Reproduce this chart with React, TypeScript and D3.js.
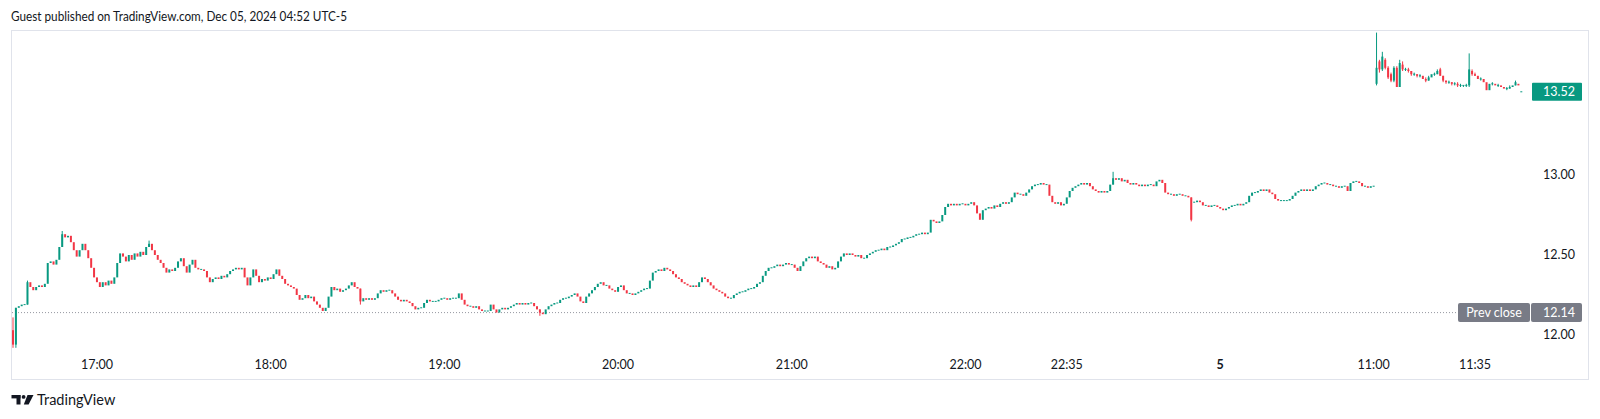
import React from 'react';
import * as d3 from 'd3';

const headerText = 'Guest published on TradingView.com, Dec 05, 2024 04:52 UTC-5';

// Evening session 1-minute closes (index 0 .. 470); open = previous close
const eveningCloses = [
  11.94, 12.17, 12.18, 12.19, 12.19, 12.33, 12.30, 12.28, 12.30, 12.31,
  12.30, 12.32, 12.45, 12.46, 12.44, 12.47, 12.55, 12.63, 12.61, 12.62,
  12.58, 12.53, 12.49, 12.53, 12.57, 12.53, 12.48, 12.42, 12.36, 12.33,
  12.30, 12.33, 12.31, 12.34, 12.32, 12.36, 12.45, 12.51, 12.49, 12.46,
  12.50, 12.47, 12.51, 12.49, 12.52, 12.50, 12.55, 12.57, 12.53, 12.50,
  12.47, 12.45, 12.42, 12.39, 12.41, 12.40, 12.42, 12.46, 12.48, 12.43,
  12.39, 12.44, 12.47, 12.42, 12.41, 12.41, 12.40, 12.36, 12.33, 12.35,
  12.36, 12.35, 12.37, 12.36, 12.38, 12.40, 12.41, 12.42, 12.41, 12.42,
  12.36, 12.31, 12.36, 12.41, 12.37, 12.33, 12.35, 12.34, 12.36, 12.35,
  12.38, 12.41, 12.37, 12.35, 12.32, 12.31, 12.30, 12.29, 12.25, 12.22,
  12.23, 12.25, 12.23, 12.24, 12.21, 12.19, 12.17, 12.15, 12.17, 12.24,
  12.30, 12.28, 12.29, 12.27, 12.28, 12.29, 12.31, 12.33, 12.30, 12.29,
  12.21, 12.23, 12.22, 12.23, 12.22, 12.23, 12.26, 12.28, 12.27, 12.28,
  12.28, 12.26, 12.24, 12.22, 12.21, 12.22, 12.21, 12.20, 12.18, 12.16,
  12.17, 12.17, 12.20, 12.22, 12.21, 12.21, 12.21, 12.22, 12.23, 12.23,
  12.22, 12.23, 12.23, 12.23, 12.26, 12.22, 12.19, 12.18, 12.18, 12.17,
  12.18, 12.16, 12.15, 12.15, 12.15, 12.19, 12.16, 12.14, 12.16, 12.17,
  12.16, 12.17, 12.18, 12.19, 12.20, 12.19, 12.20, 12.19, 12.20, 12.20,
  12.18, 12.16, 12.14, 12.13, 12.16, 12.18, 12.19, 12.20, 12.20, 12.22,
  12.23, 12.23, 12.24, 12.25, 12.26, 12.24, 12.21, 12.20, 12.24, 12.26,
  12.28, 12.30, 12.32, 12.33, 12.31, 12.31, 12.29, 12.28, 12.27, 12.30,
  12.31, 12.28, 12.26, 12.26, 12.25, 12.26, 12.27, 12.28, 12.29, 12.29,
  12.34, 12.39, 12.40, 12.41, 12.40, 12.42, 12.41, 12.40, 12.38, 12.36,
  12.35, 12.33, 12.32, 12.31, 12.30, 12.31, 12.30, 12.33, 12.36, 12.35,
  12.33, 12.31, 12.29, 12.28, 12.27, 12.26, 12.24, 12.23, 12.23, 12.25,
  12.26, 12.27, 12.27, 12.28, 12.29, 12.29, 12.30, 12.32, 12.33, 12.37,
  12.40, 12.42, 12.42, 12.43, 12.44, 12.43, 12.44, 12.45, 12.44, 12.44,
  12.42, 12.40, 12.43, 12.46, 12.48, 12.49, 12.48, 12.49, 12.46, 12.45,
  12.44, 12.42, 12.43, 12.41, 12.42, 12.46, 12.49, 12.51, 12.50, 12.51,
  12.50, 12.49, 12.50, 12.48, 12.48, 12.50, 12.51, 12.52, 12.53, 12.53,
  12.54, 12.53, 12.55, 12.55, 12.56, 12.57, 12.58, 12.60, 12.60, 12.61,
  12.61, 12.62, 12.63, 12.63, 12.64, 12.63, 12.64, 12.72, 12.71, 12.70,
  12.71, 12.75, 12.80, 12.82, 12.81, 12.82, 12.81, 12.82, 12.82, 12.81,
  12.82, 12.83, 12.81, 12.76, 12.72, 12.78, 12.79, 12.80, 12.79, 12.81,
  12.80, 12.82, 12.83, 12.82, 12.83, 12.86, 12.89, 12.88, 12.88, 12.87,
  12.89, 12.91, 12.93, 12.94, 12.94, 12.95, 12.94, 12.94, 12.87, 12.83,
  12.82, 12.83, 12.81, 12.82, 12.86, 12.90, 12.92, 12.93, 12.94, 12.95,
  12.94, 12.95, 12.93, 12.91, 12.90, 12.89, 12.90, 12.89, 12.90, 12.94,
  12.98, 12.97, 12.98, 12.96, 12.97, 12.95, 12.94, 12.95, 12.94, 12.93,
  12.94, 12.93, 12.94, 12.94, 12.93, 12.96, 12.97, 12.95, 12.89, 12.88,
  12.88, 12.87, 12.88, 12.88, 12.87, 12.87, 12.86, 12.72, 12.83, 12.84,
  12.83, 12.81, 12.81, 12.80, 12.81, 12.81, 12.80, 12.79, 12.78, 12.79,
  12.80, 12.81, 12.81, 12.82, 12.81, 12.82, 12.83, 12.87, 12.89, 12.89,
  12.90, 12.91, 12.90, 12.91, 12.89, 12.88, 12.85, 12.84, 12.84, 12.84,
  12.84, 12.85, 12.87, 12.89, 12.90, 12.91, 12.90, 12.91, 12.90, 12.91,
  12.93, 12.94, 12.95, 12.95, 12.94, 12.94, 12.93, 12.93, 12.92, 12.93,
  12.93, 12.90, 12.95, 12.96, 12.96, 12.95, 12.93, 12.93, 12.92, 12.93,
  12.93,
];
const openOverrides: [number, number][] = [[0, 12.03], [408, 12.83]];
const highOverrides: [number, number][] = [[0, 12.11], [17, 12.65], [47, 12.59], [380, 13.02], [5, 12.34]];
const lowOverrides: [number, number][] = [[0, 11.92], [1, 11.92], [182, 12.12], [407, 12.71], [120, 12.19]];

// Day session candles (index 471 .. 521)
const dayOpens = [
  13.57, 13.71, 13.66, 13.72, 13.67, 13.63, 13.59, 13.67, 13.55, 13.69,
  13.66, 13.66, 13.65, 13.63, 13.63, 13.62, 13.62, 13.60, 13.59, 13.61,
  13.63, 13.63, 13.66, 13.62, 13.59, 13.58, 13.58, 13.57, 13.57, 13.56,
  13.56, 13.56, 13.56, 13.65, 13.63, 13.62, 13.60, 13.60, 13.58, 13.53,
  13.57, 13.57, 13.56, 13.56, 13.55, 13.54, 13.54, 13.55, 13.56, 13.57,
  13.52,
];
const dayHighs = [
  13.89, 13.72, 13.77, 13.73, 13.68, 13.64, 13.68, 13.68, 13.72, 13.71,
  13.67, 13.67, 13.65, 13.64, 13.63, 13.63, 13.62, 13.61, 13.62, 13.63,
  13.64, 13.66, 13.67, 13.62, 13.59, 13.59, 13.58, 13.58, 13.58, 13.57,
  13.56, 13.57, 13.76, 13.66, 13.64, 13.62, 13.61, 13.60, 13.58, 13.57,
  13.58, 13.57, 13.57, 13.56, 13.55, 13.55, 13.56, 13.56, 13.59, 13.57,
  13.52,
];
const dayLows = [
  13.56, 13.64, 13.65, 13.66, 13.60, 13.58, 13.58, 13.55, 13.55, 13.65,
  13.65, 13.64, 13.62, 13.62, 13.61, 13.61, 13.60, 13.58, 13.59, 13.61,
  13.62, 13.63, 13.62, 13.58, 13.57, 13.57, 13.56, 13.56, 13.55, 13.55,
  13.55, 13.55, 13.55, 13.62, 13.62, 13.60, 13.59, 13.58, 13.53, 13.53,
  13.56, 13.56, 13.55, 13.55, 13.54, 13.53, 13.54, 13.55, 13.56, 13.56,
  13.52,
];
const dayCloses = [
  13.67, 13.66, 13.74, 13.67, 13.61, 13.59, 13.67, 13.55, 13.70, 13.66,
  13.66, 13.65, 13.63, 13.63, 13.62, 13.62, 13.60, 13.59, 13.61, 13.63,
  13.63, 13.65, 13.62, 13.59, 13.58, 13.58, 13.57, 13.57, 13.56, 13.56,
  13.56, 13.56, 13.66, 13.63, 13.62, 13.60, 13.60, 13.58, 13.53, 13.57,
  13.57, 13.56, 13.56, 13.55, 13.54, 13.54, 13.55, 13.56, 13.58, 13.56,
  13.52,
];

const priceTicks = [12.0, 12.5, 13.0];
const timeTickIndex = [29, 89, 149, 209, 269, 329, 364, 417, 470, 505];
const timeTickLabels = ['17:00', '18:00', '19:00', '20:00', '21:00', '22:00', '22:35', '5', '11:00', '11:35'];
const boldTickLabels = ['5'];
const prevClose = 12.14;
const lastPrice = 13.52;

type Candle = { i: number; o: number; h: number; l: number; c: number };

function buildCandles(): Candle[] {
  const oMap = new Map(openOverrides);
  const hMap = new Map(highOverrides);
  const lMap = new Map(lowOverrides);
  const out: Candle[] = [];
  eveningCloses.forEach((c, i) => {
    const o = oMap.has(i) ? (oMap.get(i) as number) : i > 0 ? eveningCloses[i - 1] : c;
    const h = hMap.has(i) ? (hMap.get(i) as number) : Math.max(o, c);
    const l = lMap.has(i) ? (lMap.get(i) as number) : Math.min(o, c);
    out.push({ i, o, h, l, c });
  });
  const base = eveningCloses.length;
  dayCloses.forEach((c, k) => {
    out.push({ i: base + k, o: dayOpens[k], h: dayHighs[k], l: dayLows[k], c });
  });
  return out;
}

const W = 1600;
const H = 419;
const FRAME = { left: 11.5, top: 30.5, right: 1588.5, bottom: 379.5 };
const X0 = 13;
const STEP = 2.895;
const UP = '#089981';
const DOWN = '#f23645';
const FONT = 'Lato, "Liberation Sans", Arial, sans-serif';
const TEXT = '#131722';

export default function App() {
  const candles = buildCandles();
  const n = candles.length;
  const x = d3.scaleLinear().domain([0, n - 1]).range([X0, X0 + (n - 1) * STEP]);
  const y = d3.scaleLinear().domain([12, 13]).range([335, 175]);
  const fmt = d3.format('.2f');

  const prevY = y(prevClose);
  const lastY = y(lastPrice);

  return (
    <svg
      width={W}
      height={H}
      viewBox={`0 0 ${W} ${H}`}
      style={{ position: 'absolute', left: 0, top: 0, background: '#ffffff' }}
    >
      <rect x={0} y={0} width={W} height={H} fill="#ffffff" />
      <text x={11} y={21} fontFamily={FONT} fontSize={13} fill={TEXT} textLength={336} lengthAdjust="spacingAndGlyphs">
        {headerText}
      </text>
      <rect
        x={FRAME.left}
        y={FRAME.top}
        width={FRAME.right - FRAME.left}
        height={FRAME.bottom - FRAME.top}
        fill="#ffffff"
        stroke="#e0e3eb"
        strokeWidth={1}
      />

      {/* prev close dotted line */}
      <line x1={12} x2={1458} y1={prevY} y2={prevY} stroke="#9598a1" strokeWidth={1} strokeDasharray="1 2" />

      {/* candles */}
      <g>
        {candles.map((d) => {
          const cx = x(d.i);
          const up = d.c >= d.o;
          const color = up ? UP : DOWN;
          const top = y(Math.max(d.o, d.c));
          const bot = y(Math.min(d.o, d.c));
          const bh = Math.max(1, bot - top);
          return (
            <g key={d.i}>
              {d.h > Math.max(d.o, d.c) || d.l < Math.min(d.o, d.c) ? (
                <line x1={cx} x2={cx} y1={y(d.h)} y2={y(d.l)} stroke={color} strokeWidth={1} />
              ) : null}
              <rect x={cx - 1} y={bh === 1 ? (top + bot) / 2 - 0.5 : top} width={2} height={bh} fill={color} />
            </g>
          );
        })}
      </g>

      {/* price axis labels */}
      {priceTicks.map((p) => (
        <text
          key={p}
          x={1575}
          y={y(p)}
          dy="0.35em"
          textAnchor="end"
          fontFamily={FONT}
          fontSize={12.5}
          fill={TEXT}
        >
          {fmt(p)}
        </text>
      ))}

      {/* prev close label */}
      <rect x={1458} y={prevY - 9.5} width={72} height={19} rx={2} fill="#787b86" />
      <rect x={1531} y={prevY - 9.5} width={51} height={19} rx={2} fill="#787b86" />
      <text x={1494} y={prevY} dy="0.35em" textAnchor="middle" fontFamily={FONT} fontSize={12.5} fill="#ffffff">
        Prev close
      </text>
      <text x={1575} y={prevY} dy="0.35em" textAnchor="end" fontFamily={FONT} fontSize={12.5} fill="#ffffff">
        {fmt(prevClose)}
      </text>

      {/* last price label */}
      <rect x={1532} y={lastY - 9} width={50} height={18} rx={1} fill={UP} />
      <text x={1575} y={lastY} dy="0.35em" textAnchor="end" fontFamily={FONT} fontSize={12.5} fill="#ffffff">
        {fmt(lastPrice)}
      </text>

      {/* time axis labels */}
      {timeTickIndex.map((ti, k) => (
        <text
          key={ti}
          x={x(ti)}
          y={365}
          dy="0.35em"
          textAnchor="middle"
          fontFamily={FONT}
          fontSize={12.5}
          fontWeight={boldTickLabels.includes(timeTickLabels[k]) ? 700 : 400}
          fill={TEXT}
        >
          {timeTickLabels[k]}
        </text>
      ))}

      {/* TradingView logo */}
      <g fill={TEXT}>
        <rect x={11.5} y={395} width={9} height={3.4} />
        <rect x={16.5} y={395} width={4} height={9.5} />
        <circle cx={23.6} cy={396.9} r={1.9} />
        <polygon points="27.5,395 33.5,395 28.6,404.5 23.8,404.5" />
      </g>
      <text x={37} y={405} fontFamily={FONT} fontSize={14.5} fill={TEXT}>
        TradingView
      </text>
    </svg>
  );
}
